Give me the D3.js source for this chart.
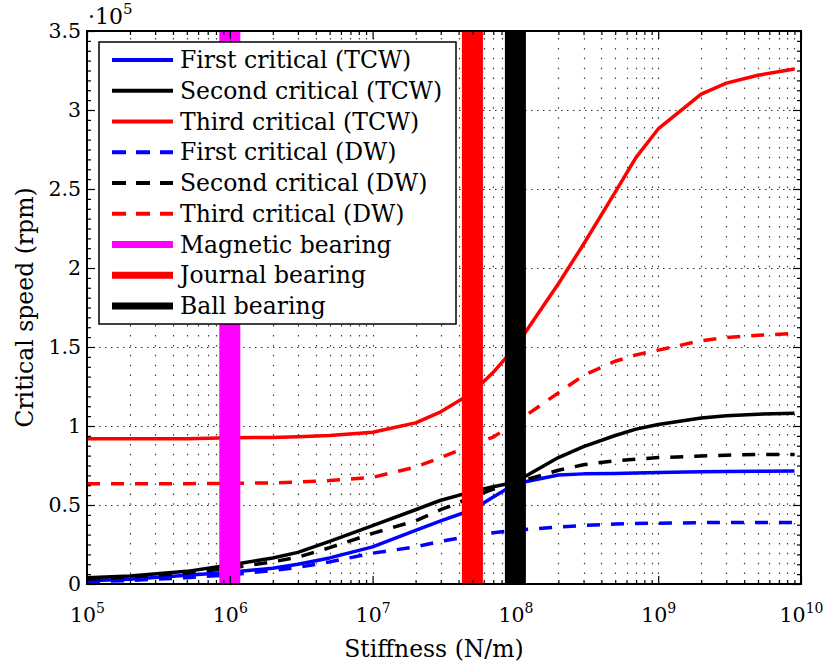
<!DOCTYPE html>
<html>
<head>
<meta charset="utf-8">
<script src="https://cdn.jsdelivr.net/npm/d3@7"></script>
<style>
  body { margin: 0; background: #fff; }
  text { font-family: "DejaVu Serif", serif; fill: #000; }
</style>
</head>
<body>
<div class="chart"></div>
<script>
// stiffness samples (N/m) and critical speeds (x 1e5 rpm)
var stiffness = [1e5, 2e5, 5e5, 1e6, 2e6, 3e6, 5e6, 1e7, 2e7, 3e7, 5e7, 7e7, 1e8, 2e8, 3e8, 5e8, 7e8, 1e9, 2e9, 3e9, 5e9, 9e9];
var firstTCW  = [0.02, 0.03, 0.055, 0.075, 0.10, 0.125, 0.165, 0.235, 0.34, 0.40, 0.47, 0.55, 0.635, 0.69, 0.697, 0.70, 0.703, 0.705, 0.71, 0.712, 0.714, 0.715];
var secondTCW = [0.04, 0.05, 0.08, 0.12, 0.165, 0.20, 0.27, 0.37, 0.47, 0.53, 0.585, 0.615, 0.645, 0.80, 0.87, 0.94, 0.98, 1.01, 1.05, 1.065, 1.075, 1.08];
var thirdTCW  = [0.92, 0.92, 0.92, 0.925, 0.928, 0.932, 0.94, 0.96, 1.02, 1.09, 1.21, 1.34, 1.50, 1.90, 2.15, 2.48, 2.70, 2.88, 3.10, 3.17, 3.22, 3.26];
var firstDW   = [0.015, 0.022, 0.04, 0.058, 0.085, 0.105, 0.14, 0.195, 0.235, 0.27, 0.305, 0.325, 0.34, 0.36, 0.37, 0.38, 0.383, 0.385, 0.388, 0.39, 0.39, 0.39];
var secondDW  = [0.03, 0.045, 0.07, 0.10, 0.14, 0.17, 0.23, 0.32, 0.40, 0.47, 0.55, 0.60, 0.64, 0.72, 0.755, 0.78, 0.79, 0.80, 0.81, 0.815, 0.82, 0.82];
var thirdDW   = [0.635, 0.635, 0.635, 0.637, 0.64, 0.645, 0.655, 0.675, 0.74, 0.80, 0.88, 0.93, 1.02, 1.21, 1.32, 1.41, 1.45, 1.48, 1.54, 1.56, 1.575, 1.585];
// bearing stiffness values
var bearingNames = ["Magnetic bearing", "Journal bearing", "Ball bearing"];
var bearingStiffness = [1e6, 5e7, 1e8];
var yTicks = [0, 0.5, 1, 1.5, 2, 2.5, 3, 3.5];
var xDecades = [1e5, 1e6, 1e7, 1e8, 1e9, 1e10];

var series = [
  { name: "First critical (TCW)", values: firstTCW, color: "#0000ff", dash: null },
  { name: "Second critical (TCW)", values: secondTCW, color: "#000000", dash: null },
  { name: "Third critical (TCW)", values: thirdTCW, color: "#ff0000", dash: null },
  { name: "First critical (DW)", values: firstDW, color: "#0000ff", dash: "13,11" },
  { name: "Second critical (DW)", values: secondDW, color: "#000000", dash: "13,11" },
  { name: "Third critical (DW)", values: thirdDW, color: "#ff0000", dash: "13,11" }
];
var bearingColors = ["#ff00ff", "#ff0000", "#000000"];

var W = 828, H = 670;
var box = { left: 87, right: 801, top: 31, bottom: 584 };

var svg = d3.select(".chart").append("svg").attr("width", W).attr("height", H);

var x = d3.scaleLog().domain([1e5, 1e10]).range([box.left, box.right]);
var y = d3.scaleLinear().domain([0, 3.5]).range([box.bottom, box.top]);

// minor x ticks 2..9 in each decade
var xMinor = [];
xDecades.slice(0, -1).forEach(d => { for (var k = 2; k <= 9; k++) xMinor.push(d * k); });
var yMinor = d3.range(0, 3.5001, 0.0625).filter(v => Math.abs(v * 2 - Math.round(v * 2)) > 1e-6);

// dotted grid
var grid = svg.append("g").attr("stroke", "#000").attr("stroke-width", 1.2).attr("stroke-dasharray", "1.5,8.4");
grid.selectAll(".vgrid")
  .data(xDecades.concat(xMinor).filter(v => v > 1e5 && v < 1e10))
  .enter().append("line")
  .attr("x1", d => Math.round(x(d)) + 0.5).attr("x2", d => Math.round(x(d)) + 0.5)
  .attr("y1", box.bottom).attr("y2", box.top)
  .attr("stroke-opacity", 0.75);
grid.selectAll(".hgrid")
  .data(yTicks.slice(1, -1))
  .enter().append("line")
  .attr("x1", box.left).attr("x2", box.right)
  .attr("y1", d => Math.round(y(d)) + 0.5).attr("y2", d => Math.round(y(d)) + 0.5)
  .attr("stroke-dasharray", "1.5,4.5")
  .attr("stroke-opacity", 0.8);

// curves
var line = d3.line().x((d, i) => x(stiffness[i])).y(d => y(d));
svg.selectAll(".curve")
  .data(series)
  .enter().append("path")
  .attr("class", "curve")
  .attr("d", d => line(d.values))
  .attr("fill", "none")
  .attr("stroke", d => d.color)
  .attr("stroke-width", 3.5)
  .attr("stroke-linejoin", "round")
  .attr("stroke-dasharray", d => d.dash);

// bearing bands
svg.selectAll(".band")
  .data(bearingStiffness)
  .enter().append("line")
  .attr("x1", d => x(d)).attr("x2", d => x(d))
  .attr("y1", y(0)).attr("y2", y(3.5))
  .attr("stroke", (d, i) => bearingColors[i])
  .attr("stroke-width", 21);

// axes (ticks inward on all sides)
function supLabel(sel) {
  sel.each(function(d) {
    var t = d3.select(this).text(null);
    t.append("tspan").text("10");
    t.append("tspan").attr("dy", -9).attr("font-size", 14).text(Math.round(Math.log10(d)));
  });
}
var gx = svg.append("g").attr("transform", `translate(0,${box.bottom})`)
  .call(d3.axisBottom(x).tickValues(xDecades).tickSize(-8).tickPadding(23).tickFormat(""));
gx.selectAll(".tick text").attr("font-size", 20.5).attr("dy", "0.71em")
  .attr("font-family", "DejaVu Serif").call(supLabel);
svg.append("g").attr("transform", `translate(0,${box.bottom})`)
  .call(d3.axisBottom(x).tickValues(xMinor).tickSize(-4).tickFormat(""));
svg.append("g").attr("transform", `translate(0,${box.top})`)
  .call(d3.axisTop(x).tickValues(xDecades).tickSize(-8).tickFormat(""));
svg.append("g").attr("transform", `translate(0,${box.top})`)
  .call(d3.axisTop(x).tickValues(xMinor).tickSize(-4).tickFormat(""));

var gy = svg.append("g").attr("transform", `translate(${box.left},0)`)
  .call(d3.axisLeft(y).tickValues(yTicks).tickSize(-8).tickPadding(6).tickFormat(d3.format("")));
gy.selectAll(".tick text").attr("font-size", 20.5).attr("font-family", "DejaVu Serif");
svg.append("g").attr("transform", `translate(${box.left},0)`)
  .call(d3.axisLeft(y).tickValues(yMinor).tickSize(-4).tickFormat(""));
svg.append("g").attr("transform", `translate(${box.right},0)`)
  .call(d3.axisRight(y).tickValues(yTicks).tickSize(-8).tickFormat(""));
svg.append("g").attr("transform", `translate(${box.right},0)`)
  .call(d3.axisRight(y).tickValues(yMinor).tickSize(-4).tickFormat(""));
svg.selectAll(".domain").remove();
svg.selectAll(".tick line").attr("stroke", "#000").attr("stroke-width", 1.2);

svg.append("rect")
  .attr("x", box.left).attr("y", box.top)
  .attr("width", box.right - box.left).attr("height", box.bottom - box.top)
  .attr("fill", "none").attr("stroke", "#000").attr("stroke-width", 2);

// exponent marker
var ex = svg.append("text").attr("x", 88).attr("y", 24).attr("font-size", 22);
ex.append("tspan").text("\u00b710");
ex.append("tspan").attr("dy", -10).attr("font-size", 15).text("5");

// axis titles
svg.append("text")
  .attr("x", 434).attr("y", 657)
  .attr("text-anchor", "middle").attr("font-size", 23.5)
  .text("Stiffness (N/m)");
svg.append("text")
  .attr("transform", `translate(33,${(box.top + box.bottom) / 2}) rotate(-90)`)
  .attr("text-anchor", "middle").attr("font-size", 23.5)
  .text("Critical speed (rpm)");

// legend
var legendItems = series.map(s => ({ name: s.name, color: s.color, dash: s.dash, width: 4 }))
  .concat(bearingNames.map((n, i) => ({ name: n, color: bearingColors[i], dash: null, width: 7 })));
var legend = svg.append("g");
legend.append("rect")
  .attr("x", 99).attr("y", 42).attr("width", 357).attr("height", 282)
  .attr("fill", "#fff").attr("stroke", "#000").attr("stroke-width", 1.5);
var item = legend.selectAll(".item")
  .data(legendItems)
  .enter().append("g")
  .attr("transform", (d, i) => `translate(0,${60 + i * 30.75})`);
item.append("line")
  .attr("x1", 112).attr("x2", 173)
  .attr("stroke", d => d.color)
  .attr("stroke-width", d => d.width)
  .attr("stroke-dasharray", d => d.dash ? "14,10" : null);
item.append("text")
  .attr("x", 180).attr("dy", "0.35em")
  .attr("font-size", 23.5)
  .text(d => d.name);
</script>
</body>
</html>
